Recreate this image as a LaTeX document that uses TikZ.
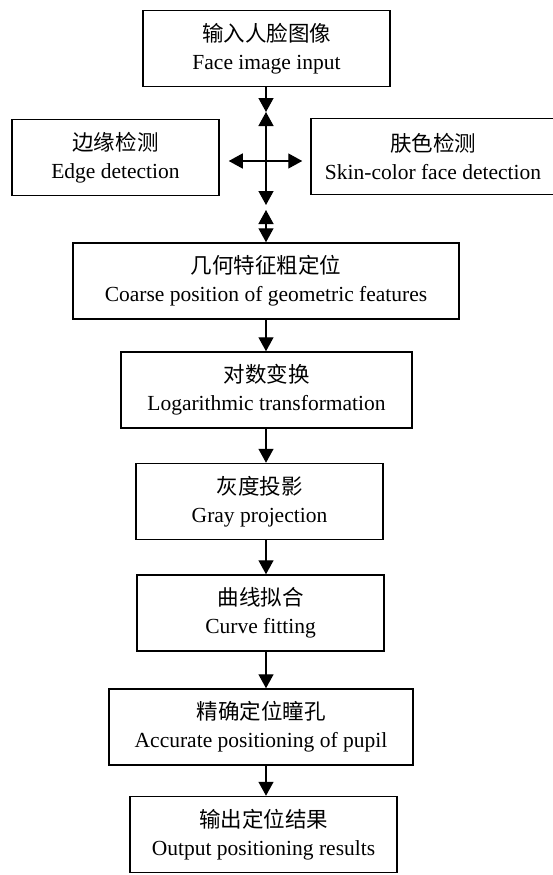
\documentclass[tikz,border=0pt]{standalone}
\usepackage{fontspec}
\setmainfont{Liberation Serif}
\newfontfamily\cjk{Noto Sans CJK SC}
\usetikzlibrary{arrows.meta}

\begin{document}
\begin{tikzpicture}[x=1pt,y=-1pt,
  stage/.style={draw,line width=1.5pt,align=center,inner sep=2pt,
    font=\fontsize{21.5}{28}\selectfont,minimum height=76pt},
  arr/.style={line width=1.4pt,-{Triangle[length=14pt,width=15pt]}},
  dbl/.style={line width=1.4pt,{Triangle[length=14pt,width=15pt]}-{Triangle[length=14pt,width=15pt]}}]
  \useasboundingbox (0,0) rectangle (553,875);

  % the column the arrows run on
  \coordinate (spine) at (266,0);

  \node[stage,minimum width=247pt] (input) at (266.5,48.5)
    {{\cjk 输入人脸图像}\\Face image input};
  \node[stage,minimum width=207pt] (edge) at (115.5,157.5)
    {{\cjk 边缘检测}\\Edge detection};
  \node[stage,minimum width=244pt,inner sep=0pt] (skin) at (433,156.5)
    {{\cjk 肤色检测}\\Skin-color face detection};
  \node[stage,minimum width=386pt] (coarse) at (266,281)
    {{\cjk 几何特征粗定位}\\Coarse position of geometric features};
  \node[stage,minimum width=291pt] (log) at (266.5,390)
    {{\cjk 对数变换}\\Logarithmic transformation};
  \node[stage,minimum width=247pt] (gray) at (259.5,501.5)
    {{\cjk 灰度投影}\\Gray projection};
  \node[stage,minimum width=247pt] (curve) at (260.5,613)
    {{\cjk 曲线拟合}\\Curve fitting};
  \node[stage,minimum width=304pt] (pupil) at (261,727)
    {{\cjk 精确定位瞳孔}\\Accurate positioning of pupil};
  \node[stage,minimum width=267pt] (result) at (263.5,834.5)
    {{\cjk 输出定位结果}\\Output positioning results};

  % the crossing between the first two stages
  \coordinate (upper) at (266,112);
  \coordinate (hub) at (266,161);
  \coordinate (lower) at (266,205);
  \coordinate (lower2) at (266,210);

  \draw[arr] (input.south -| spine) -- (upper);
  \draw[dbl] (upper) -- (lower);
  \draw[dbl] (lower2) -- (coarse.north -| spine);
  \draw[dbl,shorten <=9pt,shorten >=8pt] (edge.east |- hub) -- (skin.west |- hub);

  \draw[arr] (coarse.south -| spine) -- (log.north -| spine);
  \draw[arr] (log.south -| spine) -- (gray.north -| spine);
  \draw[arr] (gray.south -| spine) -- (curve.north -| spine);
  \draw[arr] (curve.south -| spine) -- (pupil.north -| spine);
  \draw[arr] (pupil.south -| spine) -- (result.north -| spine);
\end{tikzpicture}
\end{document}
